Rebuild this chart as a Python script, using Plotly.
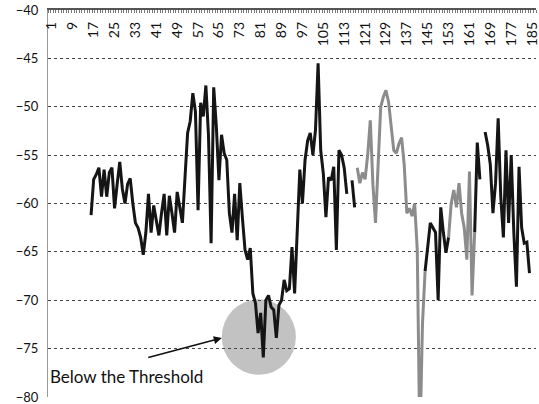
import plotly.graph_objects as go

# ---- data ----
first_category = 16
rssi = [
    -61.2, -57.5, -57.0, -56.3, -59.3, -56.5, -59.3, -56.8, -56.3, -60.5,   # 16-25
    -58.0, -55.7, -58.5, -60.0, -58.0, -57.4, -60.0, -62.0, -62.5, -63.5,   # 26-35
    -65.3, -63.0, -59.0, -63.0, -60.2, -62.0, -63.3, -61.0, -59.0, -63.3,   # 36-45
    -59.2, -61.0, -63.0, -58.8, -60.5, -62.0, -57.3, -52.7, -51.5, -48.6,   # 46-55
    -50.5, -60.7, -49.6, -51.0, -47.8, -53.0, -64.1, -48.0, -52.0, -57.6,   # 56-65
    -52.9, -54.8, -55.5, -61.0, -63.0, -59.0, -63.8, -57.9, -61.5, -64.8,   # 66-75
    -65.8, -64.6, -69.3, -70.3, -73.4, -71.3, -75.9, -70.0, -69.5, -70.7,   # 76-85
    -71.0, -73.9, -70.5, -70.0, -67.9, -69.0, -68.8, -64.5, -69.3, -63.5,   # 86-95
    -56.5, -60.0, -55.5, -53.5, -52.7, -55.0, -52.4, -45.5, -54.5, -56.9,   # 96-105
    -61.4, -57.3, -57.6, -56.2, -64.8, -54.5, -55.0, -56.3, -59.0, None,    # 106-115
    -57.6, -60.4, -56.3, -57.9, -56.8, -57.5, -55.0, -51.4, -58.0, -62.0,   # 116-125
    -56.0, -50.0, -49.0, -48.3, -49.5, -52.0, -54.5, -54.8, -53.8, -53.2,   # 126-135
    -56.0, -61.0, -60.5, -61.3, -60.0, -64.8, -85.0, -72.4, -67.0, -64.5,   # 136-145
    -62.0, -62.5, -63.0, -70.0, -60.4, -63.0, -65.1, -63.5, -60.0, -58.6,   # 146-155
    -60.4, -57.9, -61.0, -62.5, -65.8, -56.7, -69.5, -63.0, -53.7, -57.5,   # 156-165
    None,  -52.6, -54.0, -56.0, -61.0, -57.9, -51.2, -59.3, -63.5, -54.5,   # 166-175
    -62.0, -55.0, -63.0, -68.6, -56.2, -62.5, -64.1, -64.0, -67.2,          # 176-184
]
# category ranges drawn in the lighter (grey) tone
grey_ranges = [(118, 144), (153, 163)]
# category ranges drawn dark
dark_ranges = [(16, 117), (144, 153), (163, 184)]

tick_labels = list(range(1, 186, 8))
y_ticks = [-40, -45, -50, -55, -60, -65, -70, -75, -80]

highlight_center = (80.3, -73.8)
highlight_radius = (14.2, 3.9)
note_text = "Below the Threshold"
note_target = (66.1, -73.9)

categories = list(range(first_category, first_category + len(rssi)))


def masked(ranges):
    out = []
    for c, v in zip(categories, rssi):
        inside = any(a <= c <= b for a, b in ranges)
        out.append(v if inside else None)
    return out


fig = go.Figure()
# grey trace sits on the label axis (x2), which shares the range of x
fig.add_trace(go.Scatter(x=categories, y=masked(grey_ranges), mode="lines",
                         xaxis="x2", yaxis="y",
                         line=dict(color="#8c8c8c", width=3), connectgaps=False,
                         showlegend=False, hoverinfo="skip"))
fig.add_trace(go.Scatter(x=categories, y=masked(dark_ranges), mode="lines",
                         line=dict(color="#151515", width=3), connectgaps=False,
                         showlegend=False, hoverinfo="skip"))

cx, cy = highlight_center
rx, ry = highlight_radius
fig.add_shape(type="circle", xref="x", yref="y",
              x0=cx - rx, x1=cx + rx, y0=cy - ry, y1=cy + ry,
              fillcolor="#c2c2c2", line=dict(width=0), layer="below")

fig.add_annotation(x=note_target[0], y=note_target[1], xref="x", yref="y",
                   text="", showarrow=True, ax=-75, ay=20,
                   arrowhead=2, arrowsize=1, arrowwidth=1.6, arrowcolor="#111")
fig.add_annotation(x=-0.5, y=-77.9, xref="x", yref="y", text=note_text,
                   showarrow=False, xanchor="left", yanchor="middle",
                   font=dict(family="Lato", size=17, color="#111"))

x_range = [-0.5, 186.5]

fig.update_layout(
    width=539, height=404,
    margin=dict(l=48, r=3, t=10, b=7, autoexpand=False),
    paper_bgcolor="white", plot_bgcolor="white",
    font=dict(family="Lato", size=13, color="#111"),
    # top border with small category ticks
    xaxis=dict(range=x_range, side="top", showticklabels=False, ticks="",
               automargin=False, showgrid=False, zeroline=False, showline=True,
               linecolor="#555", linewidth=2,
               minor=dict(dtick=1, tick0=0.5, ticks="inside", ticklen=3,
                          tickcolor="#777", showgrid=False)),
    # category labels hanging just below the top border
    xaxis2=dict(range=x_range, matches="x", overlaying="x", anchor="free",
                position=0.979, side="bottom", tickmode="array",
                tickvals=tick_labels, ticktext=[str(t) for t in tick_labels],
                tickangle=-90, ticks="", showline=False, showgrid=False,
                zeroline=False, automargin=False, ticklabeloverflow="allow",
                tickfont=dict(family="Lato", size=14, color="#111")),
    yaxis=dict(range=[-80, -40], tickmode="array", tickvals=y_ticks,
               automargin=False, ticklabelstandoff=6, ticklabeloverflow="allow",
               showgrid=True, gridcolor="#444", gridwidth=1, griddash="dot",
               zeroline=False, showline=True, linecolor="#999", linewidth=1,
               ticks="", tickfont=dict(family="Lato", size=13, color="#111")),
)

# remove the default page margin so the figure fills the 539x404 window
fig.write_html("out.html", config={"displayModeBar": False},
               post_script="document.body.style.margin='0';document.body.style.overflow='hidden';")
